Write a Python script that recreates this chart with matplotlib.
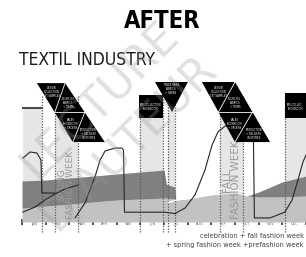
import matplotlib
matplotlib.use("Agg")
import matplotlib.pyplot as plt
from matplotlib.patches import Polygon, Rectangle

# x axis in months (0 = start of january), y axis in relative index 0..100
months = ["JAN", "FEB", "MAR", "APR", "MAY", "JUN",
          "JUL", "AUG", "SEP", "OCT", "NOV", "DEC"]

# layered areas
area_x = [0, 1, 2, 3, 4, 5, 6, 6.1, 6.45, 6.5, 7, 8, 9, 9.5, 10, 11, 12]
light_top = [10, 11.4, 12.8, 14.3, 15.7, 16.4, 17.1, 17.1, 16.5, 15.7, 16.4, 19.3, 20.7, 18.6, 17.9, 17.9, 18.6]
dark_top = [29.3, 30, 31.4, 32.8, 34.3, 35.7, 37.1, 27, 25, 15.7, 16.4, 19.3, 20.7, 18.6, 21.4, 28.6, 32.8]

# curves
curve_a_x = [0.04, 0.34, 0.63, 0.80, 0.84, 1.39]
curve_a_y = [45.7, 50, 49.3, 44.3, 20.7, 20.7]

curve_b_x = [0.04, 0.55, 0.97, 1.39, 1.82, 2.37]
curve_b_y = [7.1, 10.7, 15.7, 20, 23.6, 26.4]

curve_c_x = [2.24, 2.66, 3.08, 3.30, 3.51, 3.93, 4.22, 4.29, 4.33, 4.77, 6.04, 6.46,
             6.89, 7.31, 7.73, 8.03, 8.28, 8.58, 9.21, 9.72, 9.78, 9.82, 10.48, 11.11,
             11.41, 11.66, 11.87, 12.0]
curve_c_y = [2.9, 13.6, 32.1, 44.3, 50.7, 52.8, 52.8, 51.4, 7, 7, 7, 6,
             10, 19.3, 37.1, 55, 64.3, 68.5, 70, 62.1, 58.5, 2.9, 2.9, 7.1,
             15.7, 30, 42.8, 47.8]

white_x = [6.2, 6.5, 7, 7.5, 8, 8.4, 9.3]
white_y = [14, 15.5, 17, 19, 21.5, 24, 22]

# light vertical bands: (start, end, top)
bands = [(0.04, 0.84, 81.4), (1.39, 2.37, 84), (4.99, 5.96, 74.3),
         (6.17, 6.46, 80), (8.37, 9.34, 87), (11.11, 12.0, 74.3)]
dotted = [0.84, 1.39, 2.37, 4.99, 5.96, 6.17, 6.46, 8.37, 9.34, 11.11]

fig = plt.figure(figsize=(3.06, 2.57), dpi=100)
ax = fig.add_axes([22 / 306, 35 / 257, 284 / 306, 140 / 257])
ax.set_xlim(0, 12)
ax.set_ylim(0, 100)

for x0, x1, top in bands:
    ax.add_patch(Rectangle((x0, 0), x1 - x0, top, facecolor="0.9",
                           edgecolor="none", zorder=1))

ax.fill_between(area_x, 0, light_top, color="0.76", lw=0, zorder=2)
ax.fill_between(area_x, light_top, dark_top, color="0.5", lw=0, zorder=2)

for x in dotted:
    ax.plot([x, x], [-7, 90], color="0.35", lw=0.9, ls=(0, (1, 1.2)),
            clip_on=False, zorder=3)

ax.plot(white_x, white_y, color="white", lw=1.0, zorder=4)
ax.plot(curve_a_x, curve_a_y, color="0.15", lw=0.8, zorder=5)
ax.plot(curve_b_x, curve_b_y, color="0.15", lw=0.8, zorder=5)
ax.plot(curve_c_x, curve_c_y, color="0.15", lw=0.8, zorder=5)
ax.plot([0.04, 0.84], [81.4, 81.4], color="0.3", lw=1.5, zorder=5)

# band captions
ax.text(1.88, 2, "SPRING\nFASHION WEEK", rotation=90, ha="center", va="bottom",
        fontsize=6.5, color="0.6", linespacing=0.9, zorder=4)
ax.text(8.85, 2, "FALL\nFASHION WEEK", rotation=90, ha="center", va="bottom",
        fontsize=7.5, color="0.6", linespacing=0.9, zorder=4)

# black annotation shapes
blk = dict(facecolor="black", edgecolor="none", clip_on=False, zorder=6)
ax.add_patch(Polygon([(0.63, 99.2), (1.82, 99.2), (3.5, 57.1), (2.15, 57.1)], **blk))
ax.add_patch(Polygon([(7.6, 100), (9.0, 100), (10.48, 57.1), (9.0, 57.1)], **blk))
ax.add_patch(Polygon([(5.62, 100), (7.01, 100), (6.34, 78.6)], **blk))
ax.add_patch(Rectangle((4.94, 74.3), 1.02, 16.4, **blk))
ax.add_patch(Rectangle((11.11, 74.3), 0.89, 17.8, **blk))
for xs, ys in [([1.82, 1.39], [99.2, 78.6]), ([1.39, 2.66], [78.6, 78.6]),
               ([2.66, 2.15], [78.6, 57.1]), ([9.0, 8.3], [100, 78.6]),
               ([8.3, 9.74], [78.6, 78.6]), ([9.74, 9.0], [78.6, 57.1])]:
    ax.plot(xs, ys, color="white", lw=0.6, clip_on=False, zorder=7)

tiny = dict(color="white", fontsize=1.8, ha="center", va="center",
            linespacing=1.1, clip_on=False, zorder=8)
ax.text(1.25, 93, "DESIGN\nCOLLECTION\n1ST SAMPLES", **tiny)
ax.text(1.95, 85, "SOURCING\nFABRICS\n+ TRIMS", **tiny)
ax.text(2.05, 70, "SALES\nSHOWROOM\n+ ORDERS", **tiny)
ax.text(2.8, 63, "PRODUCTION\n+ DELIVERY\nIN STORES", **tiny)
ax.text(5.45, 82, "PRE-COLLECTION\nSHOWROOM", **tiny)
ax.text(6.3, 95, "TRADE FAIRS\nFABRICS\n+ YARNS", **tiny)
ax.text(8.3, 93, "DESIGN\nCOLLECTION\n1ST SAMPLES", **tiny)
ax.text(9.0, 85, "SOURCING\nFABRICS\n+ TRIMS", **tiny)
ax.text(9.0, 70, "SALES\nSHOWROOM\n+ ORDERS", **tiny)
ax.text(9.8, 63, "PRODUCTION\n+ DELIVERY\nIN STORES", **tiny)
ax.text(11.55, 82, "PRE-COLLEC.\nSHOWROOM", **tiny)

# axis: month ticks with labels sitting between them
for s in ax.spines.values():
    s.set_visible(False)
ax.set_yticks([])
ax.set_xticks(range(13))
ax.set_xticklabels([])
ax.set_xticks([m + 0.5 for m in range(12)], minor=True)
ax.set_xticklabels(months, minor=True)
ax.tick_params(axis="x", which="major", length=5, width=1.2, color="0.2",
               direction="inout")
ax.tick_params(axis="x", which="minor", length=0, pad=0.3, labelsize=2.5,
               labelcolor="0.4")

# titles and notes
fig.text(162 / 306, 1 - 21 / 257, "AFTER", ha="center", va="center",
         fontsize=17, fontweight="bold", fontstretch="condensed", color="black")
fig.text(19 / 306, 1 - 60 / 257, "TEXTIL INDUSTRY", ha="left", va="center",
         fontsize=12.5, fontstretch="condensed", color="0.1")
fig.text(304 / 306, 1 - 236 / 257, "celebration + fall fashion week",
         ha="right", va="center", fontsize=4.8, color="0.25")
fig.text(304 / 306, 1 - 245 / 257, "+ spring fashion week +prefashion week",
         ha="right", va="center", fontsize=4.8, color="0.25")

# watermark
wm = dict(ha="center", va="center", fontsize=32, color="0.6", alpha=0.3,
          rotation=45, rotation_mode="anchor", zorder=100)
fig.text(100 / 306, 1 - 100 / 257, "LECTURE", **wm)
fig.text(128 / 306, 1 - 142 / 257, "D'AUTEUR", **wm)

fig.savefig("out.png", dpi=100)
